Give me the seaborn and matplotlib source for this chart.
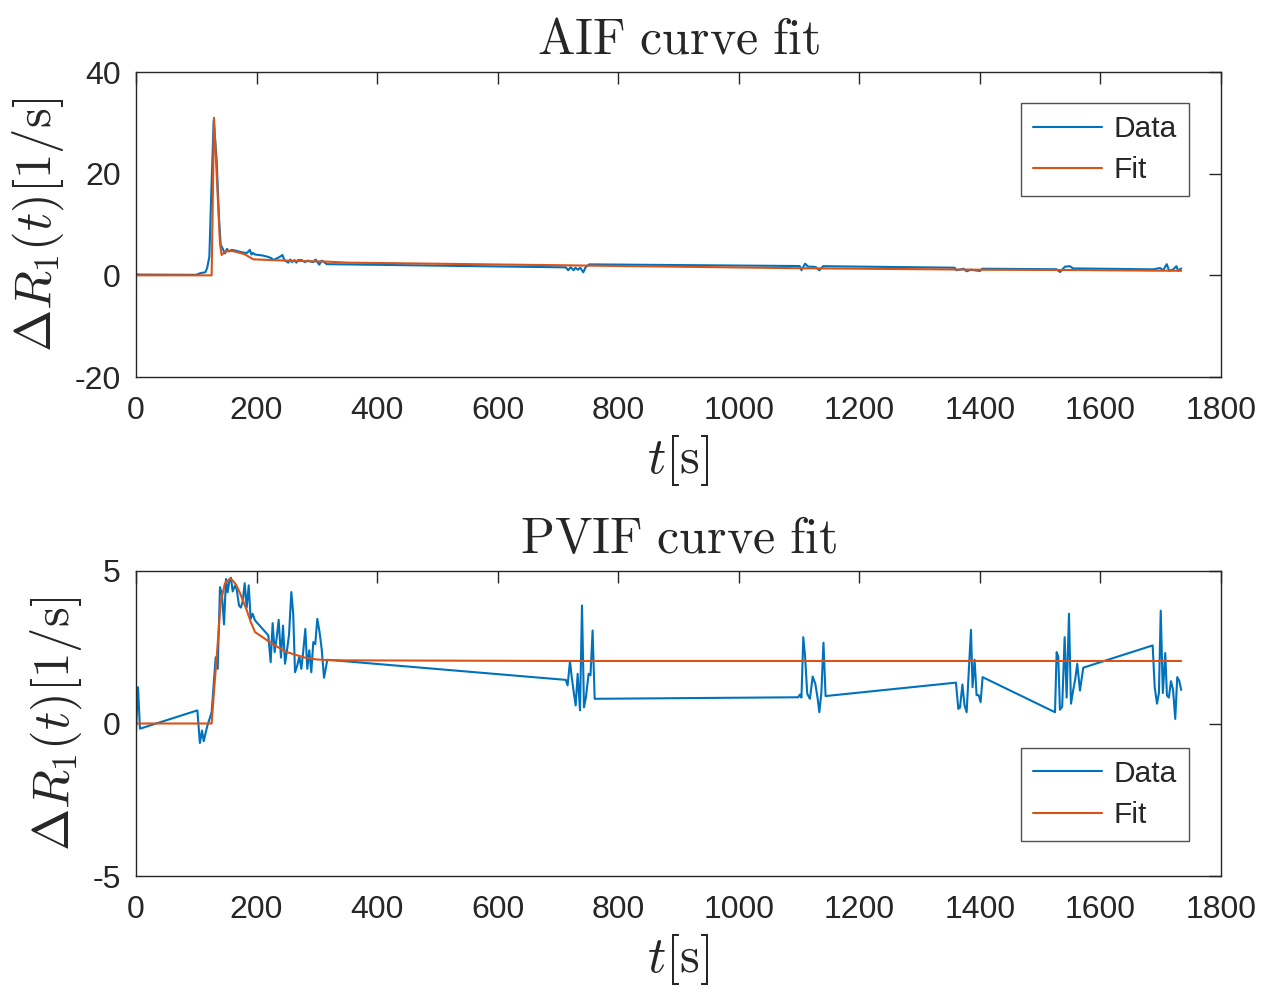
import numpy as np
import pandas as pd
import matplotlib
matplotlib.use("Agg")
import matplotlib.pyplot as plt
import seaborn as sns

# ---- data ----
aif_t = [0, 3, 7, 100, 106, 110, 115, 118, 121.7, 124.5, 128.9, 133.8, 137.6, 140.5,
         144, 147.6, 151, 154, 158.7, 164, 170, 177, 184, 189, 191.5, 194, 197.4,
         210, 220, 225, 228, 233, 238, 243, 246, 252.6, 256, 259, 263, 266, 269,
         275, 280, 285, 290, 294, 298, 304, 308, 312, 316.4,
         713, 717, 721, 726, 729, 733, 737, 742, 746, 752,
         1101, 1104, 1110, 1115, 1123, 1128, 1133.6, 1140,
         1358, 1361, 1366, 1373, 1378, 1385, 1400, 1404,
         1527, 1533, 1541, 1549, 1555, 1566,
         1687.7, 1698.8, 1704, 1710, 1714, 1720, 1726, 1729, 1734]
aif_data = [0.1, 0.2, 0.15, 0.1, 0.4, 0.5, 0.6, 1.4, 3.7, 14.8, 30.5, 22.7, 11.5, 6.0,
            5.2, 4.3, 5.2, 4.7, 5.0, 4.9, 4.7, 4.5, 4.4, 5.0, 4.1, 4.4, 4.1,
            3.9, 3.6, 3.35, 3.0, 3.3, 3.6, 4.0, 3.0, 2.5, 3.1, 2.6, 3.0, 2.5, 3.0,
            3.0, 2.6, 2.9, 2.7, 2.6, 3.1, 2.1, 2.9, 2.6, 2.2,
            1.57, 1.0, 1.6, 1.0, 1.5, 1.1, 1.5, 0.6, 1.6, 2.16,
            1.83, 1.0, 2.3, 1.7, 1.7, 1.6, 1.0, 1.8,
            1.5, 1.0, 1.1, 1.3, 0.8, 1.1, 0.85, 1.3,
            1.2, 0.65, 1.7, 1.8, 1.35, 1.35,
            1.18, 1.45, 1.0, 2.2, 0.9, 1.1, 1.8, 0.9, 1.35]

aif_fit_t = [0, 125.5, 129.4, 139.3, 142, 148, 159, 170, 181, 194.6, 225, 260, 316,
             350, 713, 760, 1101, 1149, 1360, 1405, 1527, 1566, 1687, 1734]
aif_fit = [0, 0, 31.0, 6.3, 4.0, 4.7, 4.8, 4.5, 4.1, 3.15, 3.0, 2.85, 2.7,
           2.5, 1.97, 1.9, 1.4, 1.35, 1.15, 1.1, 1.05, 1.04, 0.92, 0.9]

pvif_t = [0, 3.3, 6.6, 101.8, 106, 109.5, 112.3, 118, 125.5, 132.2, 135.5, 139.3, 142.5,
          146, 149.3, 152, 154.8, 157.5, 160.4, 164.2, 167, 170.9, 174, 177, 180.3,
          183.6, 187, 190.2, 193.5, 197.4, 219.5, 223.4, 226.7, 230, 233.3, 236.7,
          240.5, 243.9, 247.2, 250.5, 253.8, 257.7, 260.8, 263.8, 267.5, 271, 274.3,
          277.6, 280.9, 284.2, 287.5, 290.8, 294.1, 297.4, 300.8, 304.5, 308, 311.9, 317.4,
          713, 716, 720, 723, 726.6, 729.4, 732.7, 736.6, 739.9, 743.2, 746.5, 750.9,
          754, 757.5, 760.9,
          1098.7, 1101.5, 1104, 1107, 1110, 1113.6, 1118, 1122.6, 1127, 1131, 1133.6,
          1137, 1140.5, 1144,
          1360.3, 1364.2, 1367, 1371, 1374.5, 1378, 1385.2, 1387.8, 1391.2, 1394.5,
          1398, 1401.2, 1404.5,
          1524.6, 1527.3, 1530, 1532.8, 1536.5, 1540.6, 1543.9, 1547.8, 1551.1,
          1554.7, 1558.2, 1561.5, 1566, 1571.5,
          1686.6, 1690, 1693.8, 1697, 1700, 1703.5, 1707.5, 1710.3, 1713.5, 1717,
          1720.5, 1724.1, 1727.4, 1730.7, 1734]
pvif_data = [-0.25, 1.19, -0.17, 0.43, -0.64, -0.23, -0.58, -0.1, 0.37, 2.17, 1.79, 4.47, 4.25,
             3.25, 4.74, 4.3, 4.67, 4.78, 4.33, 4.52, 4.4, 3.87, 3.8, 4.0, 4.6,
             3.8, 4.53, 3.43, 3.6, 3.38, 2.89, 2.01, 3.29, 2.34, 2.8, 3.4,
             2.16, 3.21, 1.96, 2.4, 2.9, 4.31, 3.6, 1.68, 1.9, 2.2, 1.79,
             2.4, 3.1, 1.79, 2.4, 1.68, 2.67, 2.6, 3.43, 3.0, 2.45, 1.5, 2.09,
             1.43, 1.25, 2.04, 1.5, 0.97, 0.59, 1.63, 0.43, 3.87, 0.53, 0.87, 1.63,
             1.58, 3.05, 0.81,
             0.86, 0.95, 0.85, 2.83, 2.2, 0.97, 0.81, 1.54, 1.3, 0.8, 0.37,
             1.0, 2.65, 0.9,
             1.34, 0.48, 0.52, 1.28, 0.6, 0.37, 3.07, 1.19, 2.09, 0.93,
             0.93, 0.7, 1.52,
             0.37, 2.34, 2.2, 0.45, 0.55, 2.83, 0.85, 3.6, 0.65,
             1.08, 1.46, 1.96, 1.08, 1.83,
             2.56, 1.2, 0.65, 1.0, 3.7, 1.0, 2.31, 0.92, 0.85, 1.39,
             1.1, 0.15, 1.52, 1.4, 1.1]

pvif_fit_t = [0, 125.5, 130, 134.9, 140.5, 147.6, 156, 160, 166, 172, 178, 184, 190,
              197.4, 227, 249, 265, 282, 300, 317, 350, 713, 1734]
pvif_fit = [0, 0, 1.2, 2.45, 3.98, 4.6, 4.75, 4.7, 4.55, 4.3, 4.0, 3.7, 3.35,
            3.0, 2.6, 2.35, 2.25, 2.15, 2.1, 2.08, 2.07, 2.05, 2.05]

x_ticks = [0, 200, 400, 600, 800, 1000, 1200, 1400, 1600, 1800]

sns.set_theme(style="white")
plt.rcParams['font.family'] = ['Liberation Sans', 'DejaVu Sans']
plt.rcParams['mathtext.fontset'] = 'cm'
plt.rcParams['axes.unicode_minus'] = False

blue = '#0072BD'
orange = '#D95319'
dark = '#262626'

fig, axes = plt.subplots(2, 1, figsize=(12.88, 9.92), dpi=100)

panels = [
    (axes[0], aif_t, aif_data, aif_fit_t, aif_fit, 'AIF', (-20, 40), [-20, 0, 20, 40], 'upper right', 0.898),
    (axes[1], pvif_t, pvif_data, pvif_fit_t, pvif_fit, 'PVIF', (-5, 5), [-5, 0, 5], 'lower right', 0.115),
]

for ax, t, d, ft, f, name, ylim, yticks, loc, ly in panels:
    df = pd.DataFrame({'t': t, 'v': d})
    dfit = pd.DataFrame({'t': ft, 'v': f})
    sns.lineplot(data=df, x='t', y='v', ax=ax, color=blue, linewidth=1.5,
                 estimator=None, label='Data')
    sns.lineplot(data=dfit, x='t', y='v', ax=ax, color=orange, linewidth=1.5,
                 estimator=None, label='Fit')
    ax.set_xlim(0, 1800)
    ax.set_ylim(*ylim)
    ax.set_xticks(x_ticks)
    ax.set_yticks(yticks)
    ax.tick_params(direction='in', length=8.5, width=1.0, colors=dark,
                   labelsize=23, top=True, right=True, pad=11)
    ax.tick_params(axis='x', pad=14)
    for sp in ax.spines.values():
        sp.set_color(dark)
        sp.set_linewidth(1.0)
    ax.set_title(r'$\mathrm{%s\ curve\ fit}$' % name, fontsize=36, pad=13)
    ax.set_xlabel(r'$t[\mathrm{s}]$', fontsize=36.5, labelpad=4)
    ax.set_ylabel(r'$\Delta R_1(t)[1/\mathrm{s}]$', fontsize=36.5, labelpad=6)
    leg = ax.legend(loc=loc, bbox_to_anchor=(0.9705, ly), borderaxespad=0,
                    fontsize=21.5, frameon=True, fancybox=False, edgecolor=dark,
                    handlelength=2.3, handletextpad=0.4, labelspacing=0.45,
                    borderpad=0.4)
    leg.get_frame().set_linewidth(1.0)

axes[0].set_position([136 / 1288, 1 - 377 / 992, 1085 / 1288, 305 / 992])
axes[1].set_position([136 / 1288, 1 - 876 / 992, 1085 / 1288, 305 / 992])

fig.savefig('out.png', dpi=100)
